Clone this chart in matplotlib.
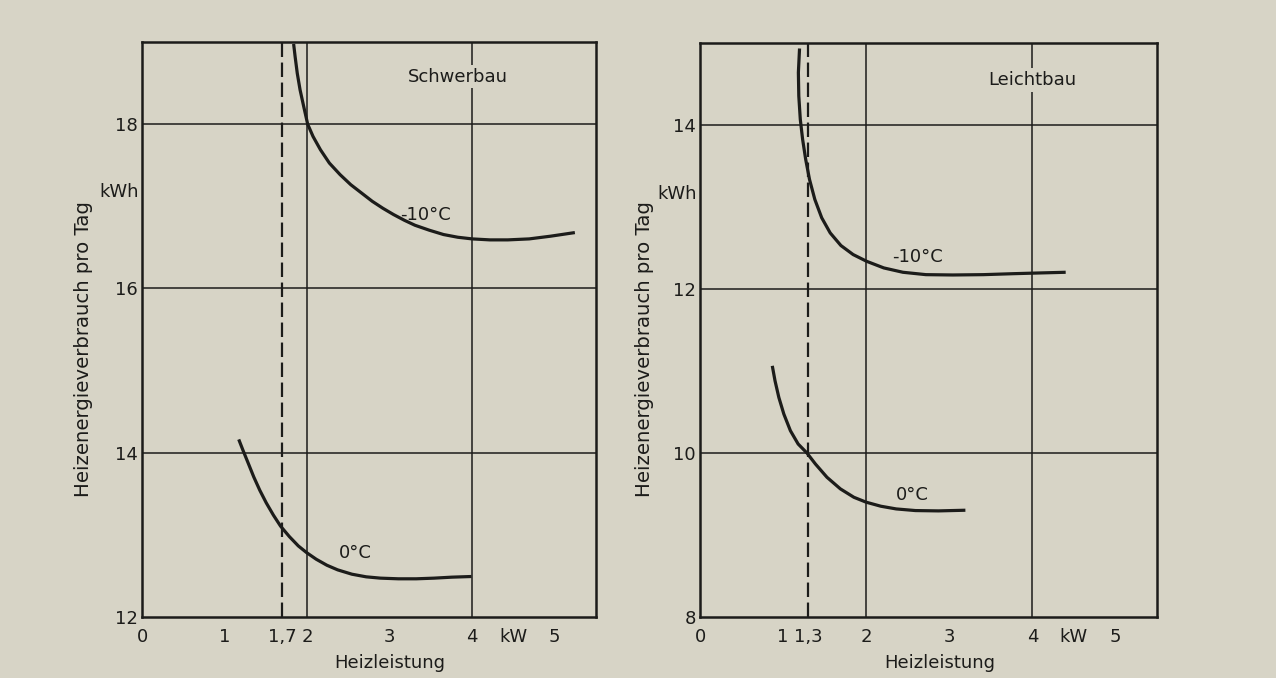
import matplotlib
matplotlib.use("Agg")
import matplotlib.pyplot as plt

# ---------------- data ----------------
# Schwerbau (heavy construction)
schwer_m10_x = [1.837, 1.855, 1.881, 1.915, 1.959, 2.007, 2.072, 2.162, 2.270, 2.400, 2.529, 2.659, 2.789,
                2.918, 3.048, 3.178, 3.307, 3.480, 3.653, 3.826, 3.999, 4.215, 4.432, 4.691, 4.950, 5.244]
schwer_m10_y = [18.976, 18.822, 18.619, 18.417, 18.215, 18.000, 17.850, 17.688, 17.526, 17.385, 17.263, 17.162,
                17.061, 16.976, 16.899, 16.830, 16.769, 16.709, 16.656, 16.623, 16.603, 16.591, 16.591, 16.603,
                16.636, 16.680]
schwer_0_x = [1.172, 1.224, 1.289, 1.354, 1.427, 1.505, 1.592, 1.678, 1.786, 1.894, 1.994, 2.111, 2.240,
              2.370, 2.543, 2.716, 2.889, 3.106, 3.322, 3.538, 3.754, 3.992]
schwer_0_y = [14.162, 14.028, 13.867, 13.705, 13.543, 13.390, 13.240, 13.107, 12.978, 12.865, 12.784, 12.703,
              12.630, 12.574, 12.521, 12.489, 12.473, 12.465, 12.465, 12.473, 12.485, 12.493]
# Leichtbau (light construction)
leicht_m10_x = [1.198, 1.184, 1.189, 1.207, 1.235, 1.272, 1.318, 1.382, 1.465, 1.567, 1.696, 1.843, 2.005,
                2.212, 2.442, 2.719, 3.041, 3.410, 3.779, 4.101, 4.401]
leicht_m10_y = [14.933, 14.640, 14.354, 14.069, 13.825, 13.580, 13.336, 13.092, 12.868, 12.684, 12.530, 12.420,
                12.338, 12.257, 12.204, 12.175, 12.171, 12.175, 12.187, 12.196, 12.204]
leicht_0_x = [0.870, 0.903, 0.949, 1.009, 1.088, 1.181, 1.287, 1.389, 1.528, 1.690, 1.852, 2.000, 2.176,
              2.361, 2.593, 2.870, 3.194]
leicht_0_y = [11.063, 10.880, 10.677, 10.475, 10.272, 10.110, 10.000, 9.866, 9.704, 9.562, 9.460, 9.400,
              9.351, 9.318, 9.298, 9.294, 9.302]

schwer_xticks = [0, 1, 1.7, 2, 3, 4, 4.5, 5]
schwer_xticklabels = ["0", "1", "1,7", "2", "3", "4", "kW", "5"]
leicht_xticks = [0, 1, 1.3, 2, 3, 4, 4.5, 5]
leicht_xticklabels = ["0", "1", "1,3", "2", "3", "4", "kW", "5"]
schwer_yticks = [12, 14, 16, 18]
leicht_yticks = [8, 10, 12, 14]
schwer_ylim = (12, 19)
leicht_ylim = (8, 15)
xlim = (0, 5.5)
grid_x = [2, 4]
minor_x = [1, 3, 5]
schwer_dash = 1.7
leicht_dash = 1.3
titles = ["Schwerbau", "Leichtbau"]
curve_labels = ["-10°C", "0°C"]
xlabel_text = "Heizleistung"
ylabel_text = "Heizenergieverbrauch pro Tag"
unit_text = "kWh"

BG = "#d7d4c6"
INK = "#1c1c1a"

plt.rcParams['font.family'] = ['DejaVu Sans']
fig = plt.figure(figsize=(12.76, 6.78), dpi=100, facecolor=BG)

ax1 = fig.add_axes([142/1276, 61/678, 454/1276, 575/678])
ax2 = fig.add_axes([700/1276, 61/678, 457/1276, 574/678])

panels = [
    (ax1, schwer_m10_x, schwer_m10_y, schwer_0_x, schwer_0_y, schwer_xticks, schwer_xticklabels,
     schwer_yticks, schwer_ylim, schwer_dash, titles[0], (3.83, 18.58), (3.44, 16.89), (2.58, 12.78), 0.545),
    (ax2, leicht_m10_x, leicht_m10_y, leicht_0_x, leicht_0_y, leicht_xticks, leicht_xticklabels,
     leicht_yticks, leicht_ylim, leicht_dash, titles[1], (4.0, 14.55), (2.62, 12.39), (2.55, 9.49), 0.525),
]

for (ax, mx, my, zx, zy, xt, xtl, yt, yl, dash, title, tpos, mpos, zpos, xlab_x) in panels:
    ax.set_facecolor(BG)
    ax.set_xlim(*xlim)
    ax.set_ylim(*yl)
    for gx in grid_x:
        ax.axvline(gx, color=INK, lw=1.1, zorder=1)
    for gy in yt[1:]:
        ax.axhline(gy, color=INK, lw=1.1, zorder=1)
    dl = ax.axvline(dash, color=INK, lw=1.6, zorder=2)
    dl.set_dashes((6.5, 2.5))
    ax.plot(mx, my, color=INK, lw=2.3, zorder=3, solid_joinstyle='round', solid_capstyle='butt')
    ax.plot(zx, zy, color=INK, lw=2.3, zorder=3, solid_joinstyle='round', solid_capstyle='butt')
    ax.text(mpos[0], mpos[1], curve_labels[0], ha='center', va='center', fontsize=13, color=INK, zorder=4)
    ax.text(zpos[0], zpos[1], curve_labels[1], ha='center', va='center', fontsize=13, color=INK, zorder=4)
    ax.text(tpos[0], tpos[1], title, ha='center', va='center', fontsize=13, color=INK, zorder=4,
            bbox=dict(facecolor=BG, edgecolor='none', pad=2))
    ax.set_xticks(xt)
    ax.set_xticklabels(xtl)
    ax.set_xticks(minor_x, minor=True)
    ax.tick_params(axis='x', which='major', length=0, pad=8, labelsize=13, colors=INK)
    ax.tick_params(axis='x', which='minor', direction='in', length=14, width=1.1, colors=INK)
    ax.set_yticks(yt)
    ax.tick_params(axis='y', which='major', length=0, pad=3, labelsize=13, colors=INK)
    for s in ax.spines.values():
        s.set_linewidth(1.8)
        s.set_color(INK)
    ax.text(xlab_x, -0.08, xlabel_text, transform=ax.transAxes, ha='center', va='center',
            fontsize=13, color=INK)

fig.text(84/1276, 1 - 349/678, ylabel_text, rotation=90, ha='center', va='center',
         fontsize=14.2, color=INK)
fig.text(645/1276, 1 - 349/678, ylabel_text, rotation=90, ha='center', va='center',
         fontsize=14.2, color=INK)
fig.text(119/1276, 1 - 192/678, unit_text, ha='center', va='center', fontsize=13, color=INK)
fig.text(677/1276, 1 - 194/678, unit_text, ha='center', va='center', fontsize=13, color=INK)

fig.savefig("out.png", dpi=100, facecolor=BG)
